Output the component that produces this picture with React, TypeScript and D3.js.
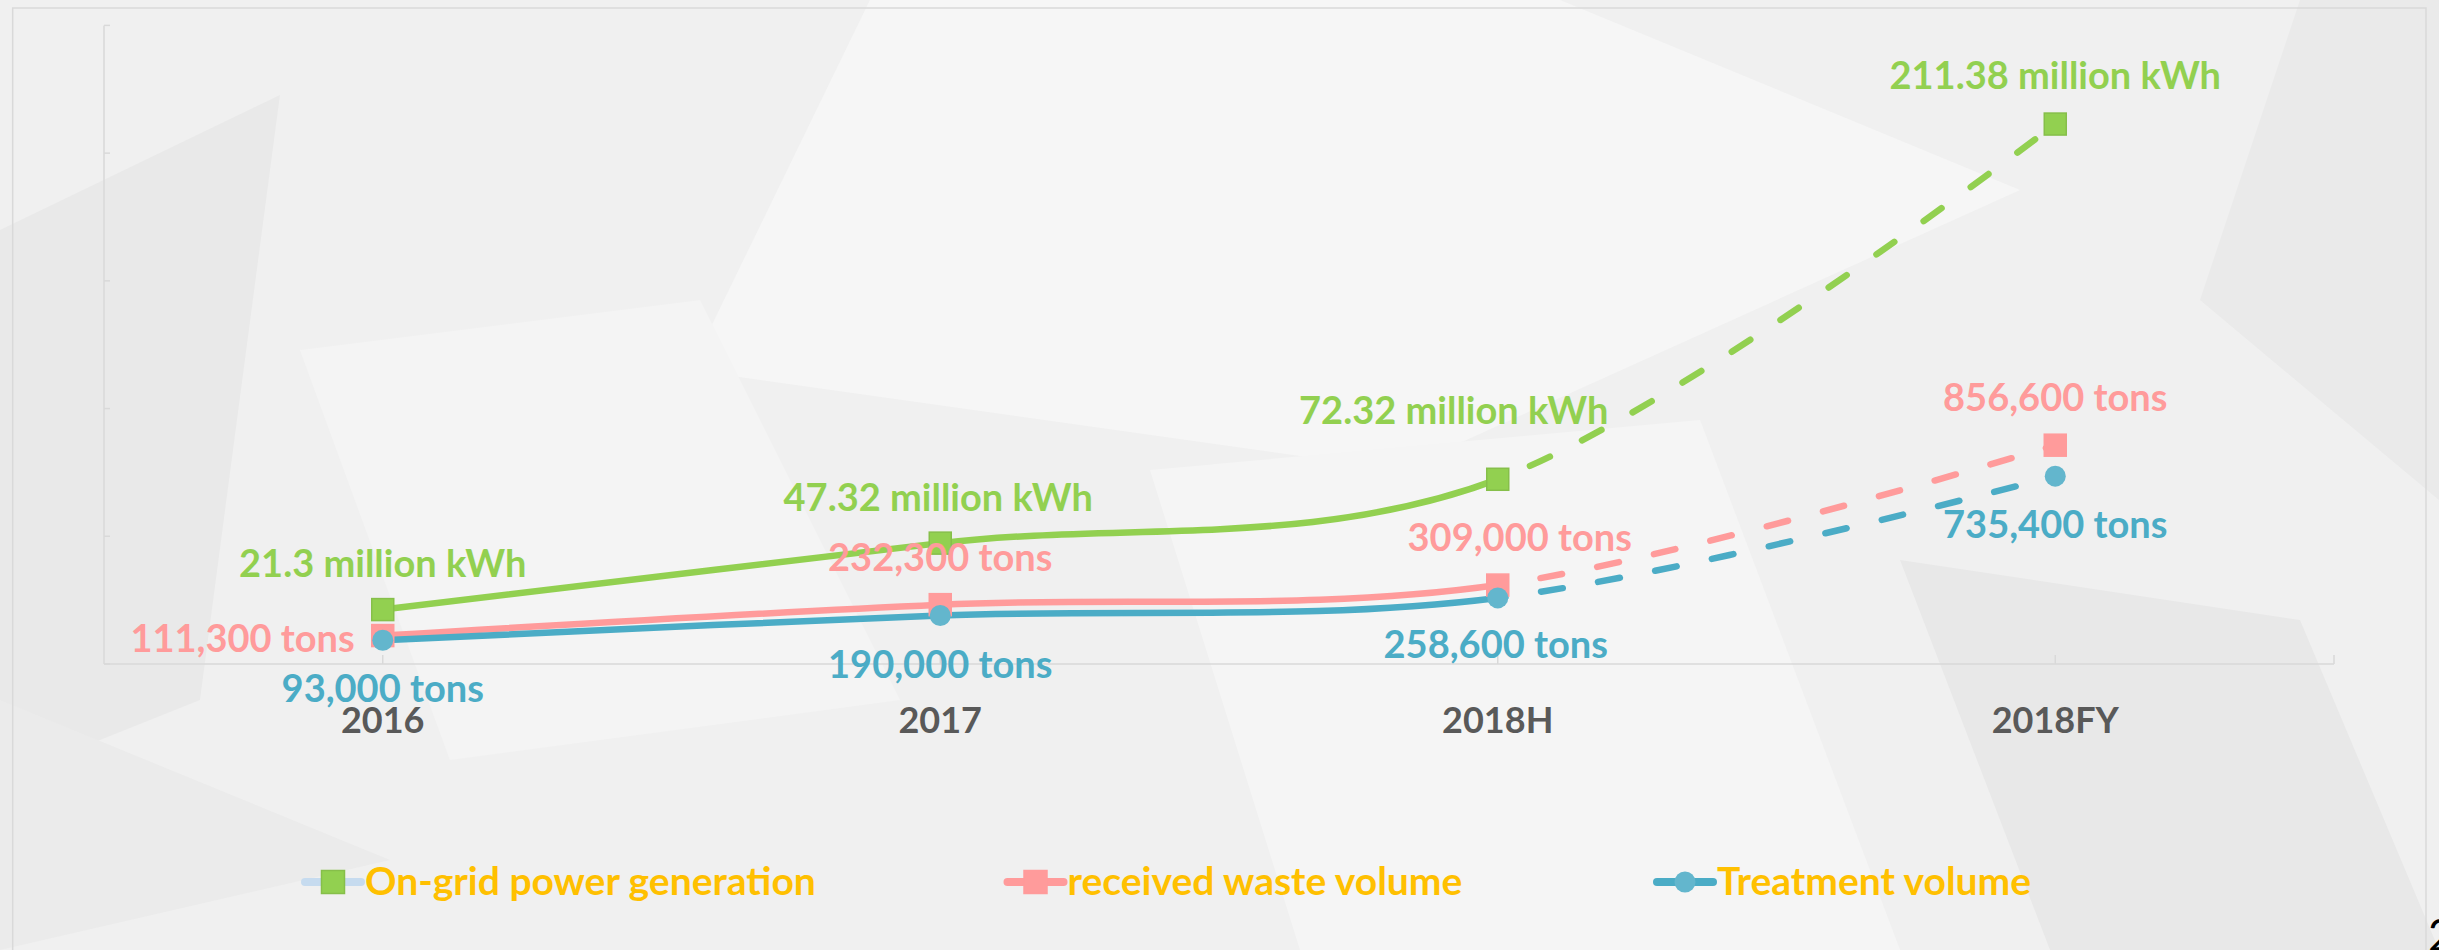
import React from "react";
import * as d3 from "d3";

const categories = ["2016", "2017", "2018H", "2018FY"];
const powerValues = [21.3, 47.32, 72.32, 211.38];
const wasteValues = [11.13, 23.23, 30.9, 85.66];
const treatValues = [9.3, 19.0, 25.86, 73.54];
const powerLabels = ["21.3 million kWh", "47.32 million kWh", "72.32 million kWh", "211.38 million kWh"];
const wasteLabels = ["111,300 tons", "232,300 tons", "309,000 tons", "856,600 tons"];
const treatLabels = ["93,000 tons", "190,000 tons", "258,600 tons", "735,400 tons"];
const yTicks = [0, 50, 100, 150, 200, 250];
const legendLabels = ["On-grid power generation", "received waste volume", "Treatment volume"];

const W = 2439;
const H = 950;
const FONT = "Lato, 'Open Sans', sans-serif";

const GREEN = "#92D050";
const PINK = "#FF9B9B";
const BLUE = "#4BACC6";

// decorative low-poly background facets
const facets: [string, string][] = [
  ["#F6F6F6", "M870,0 L1560,0 L2020,190 L1400,470 L690,370 Z"],
  ["#E9E9E9", "M0,230 L280,95 L200,700 L0,780 Z"],
  ["#EBEBEB", "M0,700 L390,860 L0,950 Z"],
  ["#F5F5F5", "M1150,470 L1700,420 L1900,950 L1300,950 Z"],
  ["#EAEAEA", "M2300,0 L2439,0 L2439,500 L2200,300 Z"],
  ["#F4F4F4", "M300,350 L700,300 L900,700 L450,760 Z"],
  ["#E8E8E8", "M1900,560 L2300,620 L2439,950 L2050,950 Z"],
];

// label placement styles (offsets relative to the point)
const powerOff = [[0, -33, "middle"], [-2, -32, "middle"], [-44, -55, "middle"], [0, -35, "middle"]];
const wasteOff = [[-28, 16, "end"], [0, -34, "middle"], [22, -34, "middle"], [0, -34, "middle"]];
const treatOff = [[0, 62, "middle"], [0, 63, "middle"], [-2, 60, "middle"], [0, 62, "middle"]];

export default function App() {
  const x = d3.scaleBand().domain(categories).range([104, 2334]).padding(0);
  const cx = (c: string) => (x(c) as number) + x.bandwidth() / 2;
  const y = d3.scaleLinear().domain([0, 250]).range([664, 25.4]);

  const line = d3
    .line<number>()
    .x((_, i) => cx(categories[i]))
    .y((d) => y(d))
    .curve(d3.curveCardinal.tension(0));

  const splitX = cx(categories[2]);

  const series = [
    { vals: powerValues, labels: powerLabels, off: powerOff, color: GREEN, marker: "square", mFill: GREEN, mStroke: "#86BF4A" },
    { vals: wasteValues, labels: wasteLabels, off: wasteOff, color: PINK, marker: "square", mFill: PINK, mStroke: PINK },
    { vals: treatValues, labels: treatLabels, off: treatOff, color: BLUE, marker: "circle", mFill: "#63B6CD", mStroke: "#63B6CD" },
  ];

  const legendX = [333, 1035.5, 1685];
  const legendLine = ["#C6DBEF", PINK, BLUE];
  const legendY = 882;

  return (
    <svg width={W} height={H} style={{ position: "absolute", left: 0, top: 0, display: "block" }}>
      <defs>
        <clipPath id="solidClip">
          <rect x={0} y={0} width={splitX} height={H} />
        </clipPath>
        <clipPath id="dashClip">
          <rect x={splitX} y={0} width={W - splitX} height={H} />
        </clipPath>
      </defs>
      <rect x={0} y={0} width={W} height={H} fill="#F0F0F0" />
      {facets.map(([c, d], i) => (
        <path key={i} d={d} fill={c} />
      ))}
      {/* outer frame */}
      <path d={`M12.7,${H + 5}V8H2426V${H + 5}`} fill="none" stroke="#D9D9D9" strokeWidth={1.5} />

      {/* axes */}
      <line x1={104} x2={104} y1={y(250)} y2={y(0)} stroke="#D9D9D9" strokeWidth={1.5} />
      {yTicks.map((t) => (
        <line key={t} x1={104} x2={110} y1={y(t)} y2={y(t)} stroke="#D9D9D9" strokeWidth={1.5} />
      ))}
      <line x1={104} x2={2334} y1={y(0)} y2={y(0)} stroke="#D9D9D9" strokeWidth={1.5} />
      {categories.map((c) => (
        <line key={c} x1={cx(c)} x2={cx(c)} y1={y(0)} y2={y(0) - 9} stroke="#D9D9D9" strokeWidth={1.5} />
      ))}
      <line x1={2334} x2={2334} y1={y(0)} y2={y(0) - 9} stroke="#D9D9D9" strokeWidth={1.5} />
      {categories.map((c) => (
        <text key={c} x={cx(c)} y={732.5} textAnchor="middle" fontFamily={FONT} fontWeight="bold" fontSize={36} fill="#595959">
          {c}
        </text>
      ))}

      {/* lines */}
      {series.map((s, si) => (
        <g key={si}>
          <path d={line(s.vals) as string} fill="none" stroke={s.color} strokeWidth={6.5} clipPath="url(#solidClip)" strokeLinecap="round" />
          <path d={line(s.vals) as string} fill="none" stroke={s.color} strokeWidth={6.5} clipPath="url(#dashClip)" strokeDasharray="22 36" strokeLinecap="round" />
        </g>
      ))}

      {/* markers */}
      {series.map((s, si) => (
        <g key={si}>
          {s.vals.map((v, i) =>
            s.marker === "square" ? (
              <rect key={i} x={cx(categories[i]) - 11} y={y(v) - 11} width={22} height={22} fill={s.mFill} stroke={s.mStroke} strokeWidth={1.5} />
            ) : (
              <circle key={i} cx={cx(categories[i])} cy={y(v)} r={10.5} fill={s.mFill} />
            )
          )}
        </g>
      ))}

      {/* labels */}
      {series.map((s, si) => (
        <g key={si}>
          {s.vals.map((v, i) => (
            <text
              key={i}
              x={cx(categories[i]) + (s.off[i][0] as number)}
              y={y(v) + (s.off[i][1] as number)}
              textAnchor={s.off[i][2] as string}
              fontFamily={FONT}
              fontWeight="bold"
              fontSize={38}
              fill={s.color}
            >
              {s.labels[i]}
            </text>
          ))}
        </g>
      ))}

      {/* legend */}
      {legendLabels.map((l, i) => (
        <g key={l}>
          <line x1={legendX[i] - 28} x2={legendX[i] + 28} y1={legendY} y2={legendY} stroke={legendLine[i]} strokeWidth={8} strokeLinecap="round" />
          {i === 2 ? (
            <circle cx={legendX[i]} cy={legendY} r={10.5} fill="#63B6CD" />
          ) : (
            <rect x={legendX[i] - 11.5} y={legendY - 11.5} width={23} height={23} fill={series[i].mFill} stroke={series[i].mStroke} strokeWidth={1.5} />
          )}
          <text x={legendX[i] + 32} y={895} fontFamily={FONT} fontWeight="bold" fontSize={39} fill="#FFC000">
            {l}
          </text>
        </g>
      ))}

      <text x={2428} y={951} fontFamily={FONT} fontSize={44} fill="#000">2</text>
    </svg>
  );
}
